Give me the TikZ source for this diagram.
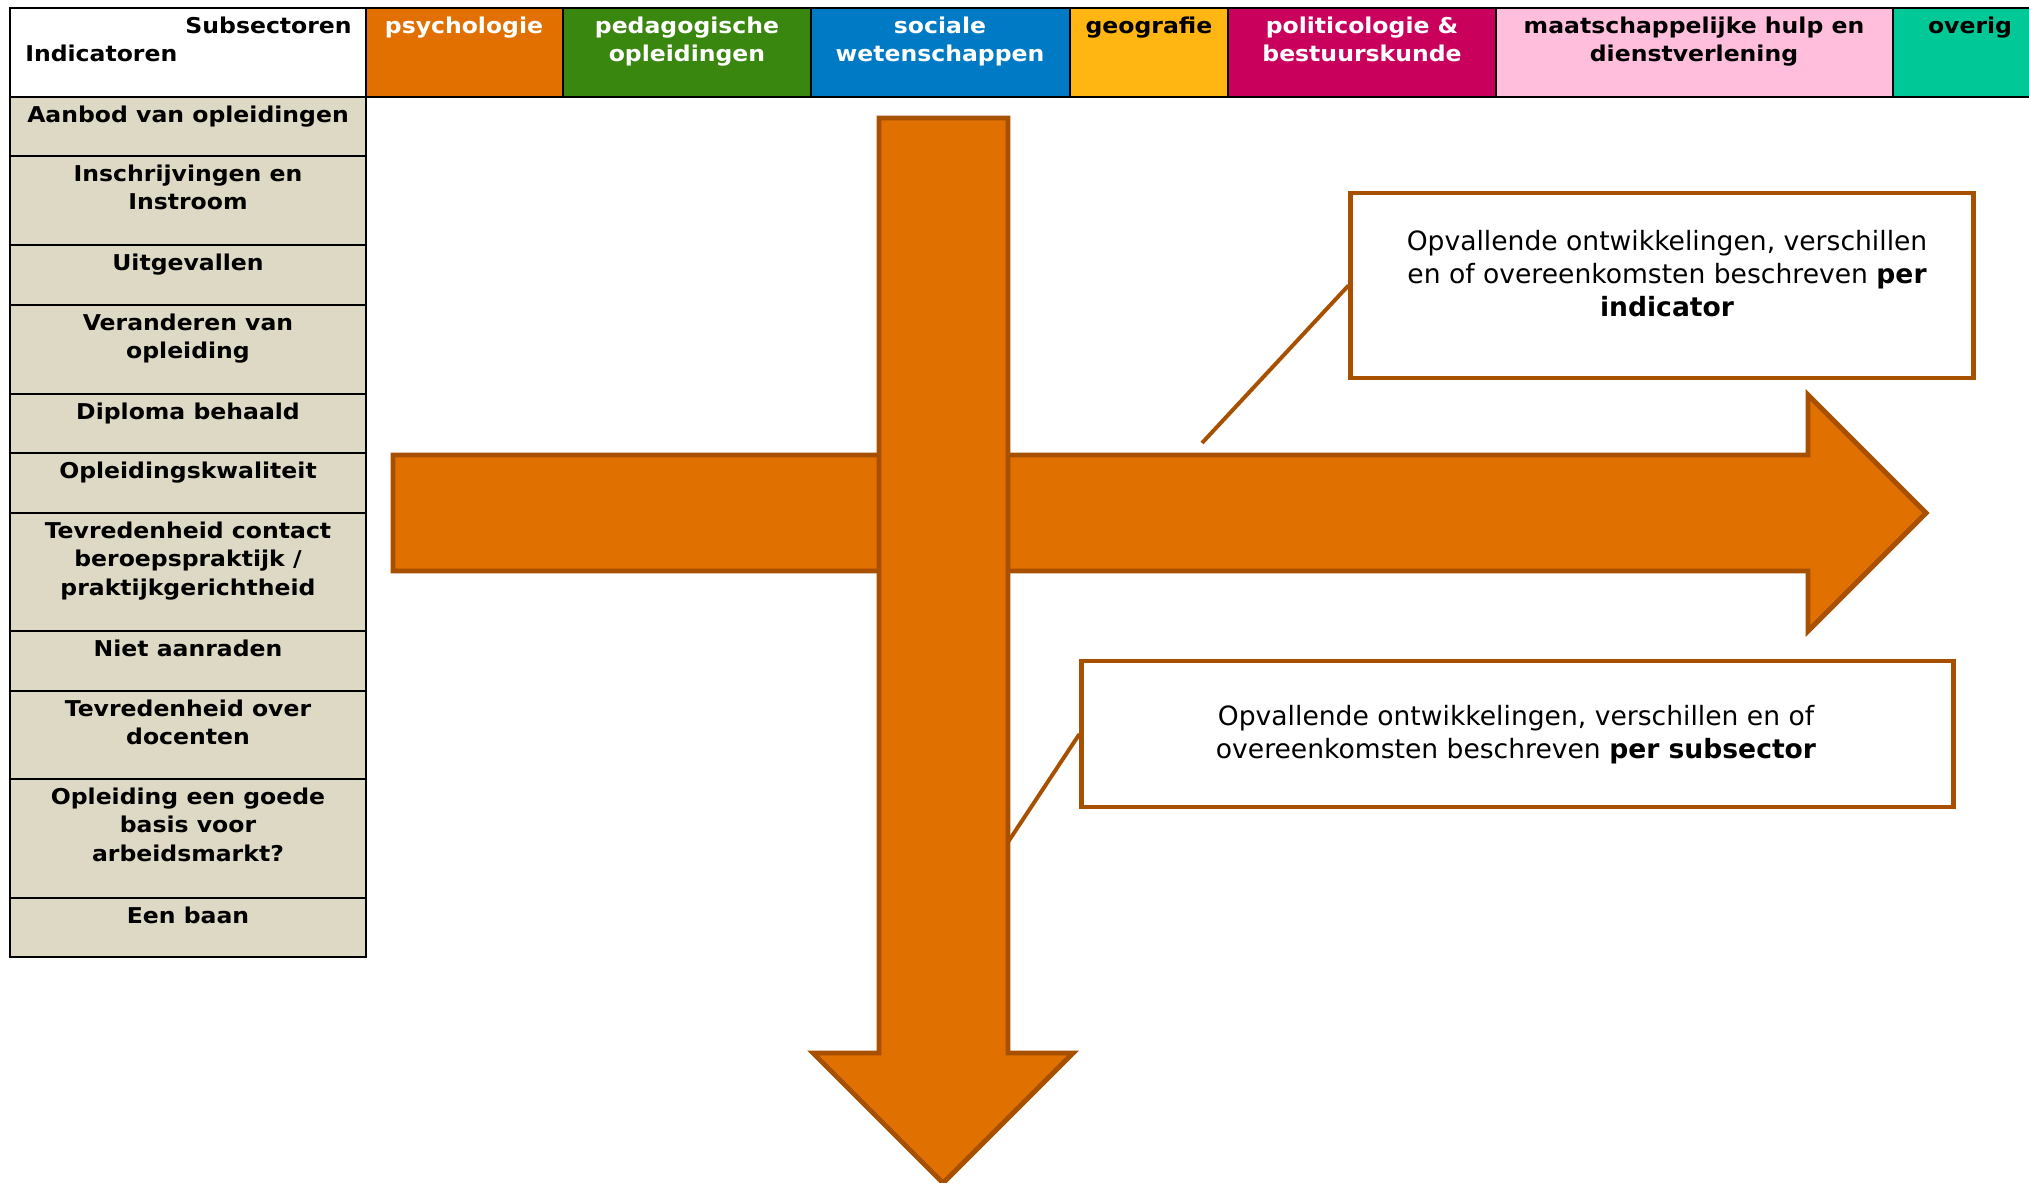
\documentclass[tikz,border=0pt]{standalone}
\usepackage{fontspec}
\setmainfont{DejaVu Sans}
\newfontfamily\tabfont{DejaVu Sans}[FakeStretch=1.08]
\usepackage{tikz}
\definecolor{arroworange}{RGB}{224,112,0}
\definecolor{arrowedge}{RGB}{166,80,0}
\definecolor{psyorange}{RGB}{225,112,0}
\definecolor{pedgreen}{RGB}{58,135,16}
\definecolor{socblue}{RGB}{0,122,197}
\definecolor{geoyellow}{RGB}{255,182,18}
\definecolor{polred}{RGB}{202,0,93}
\definecolor{maatpink}{RGB}{255,191,220}
\definecolor{overteal}{RGB}{0,200,150}
\definecolor{rowbeige}{RGB}{221,217,196}
\tikzset{
    cell/.style={draw=black, line width=1.6pt},
    celltext/.style={anchor=north, align=center, inner sep=0pt, font=\tabfont\bfseries\fontsize{15.5pt}{20pt}\selectfont},
    bigarrow/.style={fill=arroworange, draw=arrowedge, line width=3.5pt, line join=miter},
    notebox/.style={draw=arrowedge, line width=3.5pt, fill=white, inner sep=0pt},
    notetext/.style={align=center, inner sep=0pt, font=\fontsize{18.9pt}{23.5pt}\selectfont},
    pointer/.style={draw=arrowedge, line width=2.8pt}
}

\begin{document}
\begin{tikzpicture}[x=0.025cm, y=-0.025cm]
    \useasboundingbox (0,0) rectangle (2029,1182);

    \draw[cell, fill=white] (10,8) rectangle (366,97);
    \draw[cell, fill=psyorange] (366,8) rectangle (563,97);
    \draw[cell, fill=pedgreen] (563,8) rectangle (811,97);
    \draw[cell, fill=socblue] (811,8) rectangle (1070,97);
    \draw[cell, fill=geoyellow] (1070,8) rectangle (1228,97);
    \draw[cell, fill=polred] (1228,8) rectangle (1496,97);
    \draw[cell, fill=maatpink] (1496,8) rectangle (1893,97);
    \draw[cell, fill=overteal] (1893,8) rectangle (2047,97);

    \node[celltext, anchor=north east] (sub) at (352,17) {Subsectoren};
    \node[celltext, anchor=base west] (ind) at (25,62) {Indicatoren};
    \node[celltext, text=white] (psy) at (464,17) {psychologie};
    \node[celltext, text=white] (ped) at (687,17) {pedagogische\\opleidingen};
    \node[celltext, text=white] (soc) at (940,17) {sociale\\wetenschappen};
    \node[celltext] (geo) at (1149,17) {geografie};
    \node[celltext, text=white] (pol) at (1362,17) {politicologie \&\\bestuurskunde};
    \node[celltext] (maat) at (1694,17) {maatschappelijke hulp en\\dienstverlening};
    \node[celltext] (over) at (1970,17) {overig};

    \draw[cell, fill=rowbeige] (10,97) rectangle (366,156);
    \draw[cell, fill=rowbeige] (10,156) rectangle (366,245);
    \draw[cell, fill=rowbeige] (10,245) rectangle (366,305);
    \draw[cell, fill=rowbeige] (10,305) rectangle (366,394);
    \draw[cell, fill=rowbeige] (10,394) rectangle (366,453);
    \draw[cell, fill=rowbeige] (10,453) rectangle (366,513);
    \draw[cell, fill=rowbeige] (10,513) rectangle (366,631);
    \draw[cell, fill=rowbeige] (10,631) rectangle (366,691);
    \draw[cell, fill=rowbeige] (10,691) rectangle (366,779);
    \draw[cell, fill=rowbeige] (10,779) rectangle (366,898);
    \draw[cell, fill=rowbeige] (10,898) rectangle (366,957);

    \node[celltext] (aanbod) at (188,106) {Aanbod van opleidingen};
    \node[celltext] (inschr) at (188,165) {Inschrijvingen en\\Instroom};
    \node[celltext] (uitgev) at (188,254) {Uitgevallen};
    \node[celltext] (verand) at (188,314) {Veranderen van\\opleiding};
    \node[celltext] (diploma) at (188,403) {Diploma behaald};
    \node[celltext] (kwal) at (188,462) {Opleidingskwaliteit};
    \node[celltext] (contact) at (188,522) {Tevredenheid contact\\beroepspraktijk /\\praktijkgerichtheid};
    \node[celltext] (aanraden) at (188,640) {Niet aanraden};
    \node[celltext] (docent) at (188,700) {Tevredenheid over\\docenten};
    \node[celltext] (basis) at (188,788) {Opleiding een goede\\basis voor\\arbeidsmarkt?};
    \node[celltext] (baan) at (188,907) {Een baan};

    \draw[bigarrow] (393,455) -- (1808,455) -- (1808,395) -- (1926,513) -- (1808,631) -- (1808,571) -- (393,571) -- cycle;

    \draw[bigarrow] (879,118) -- (1008,118) -- (1008,1053) -- (1073,1053) -- (943,1183) -- (813,1053) -- (879,1053) -- cycle;

    \node[notebox, minimum width=15.55cm, minimum height=4.625cm] (perind) at (1662,285.5) {};
    \node[notetext] (perindtext) at (1667,274) {Opvallende ontwikkelingen, verschillen\\en of overeenkomsten beschreven \textbf{per}\\\textbf{indicator}};
    \node[notebox, minimum width=21.775cm, minimum height=3.65cm] (persub) at (1517.5,734) {};
    \node[notetext] (persubtext) at (1516,735) {Opvallende ontwikkelingen, verschillen en of\\overeenkomsten beschreven \textbf{per subsector}};

    \coordinate (tipind) at (1202,443);
    \coordinate (tipsub) at (1008,842);
    \draw[pointer] (perind.west) -- (tipind);
    \draw[pointer] (persub.west) -- (tipsub);

\end{tikzpicture}
\end{document}
